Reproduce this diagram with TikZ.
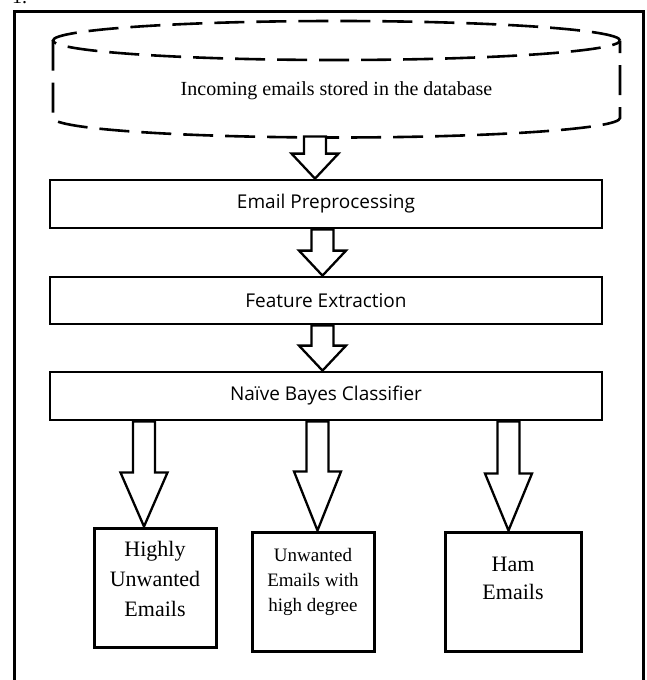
\documentclass[tikz,border=0pt]{standalone}
\usepackage{fontspec}
\setmainfont{Liberation Serif}
\newfontfamily\boxsans{Open Sans}
\usetikzlibrary{calc}
\newcommand\hollowarrow[3]{%
  \draw[hollow] let \p1=#1, \p2=#2 in
    (\x1-11pt,\y1) -- (\x1-11pt,\y2+#3pt) -- (\x1-23.5pt,\y2+#3pt) -- (\x1,\y2)
    -- (\x1+23.5pt,\y2+#3pt) -- (\x1+11pt,\y2+#3pt) -- (\x1+11pt,\y1) -- cycle;}
\begin{document}
\begin{tikzpicture}[x=1pt,y=1pt,
  frame/.style={line width=3pt},
  dbline/.style={line width=2.6pt, dash pattern=on 30pt off 12pt},
  procbox/.style={draw, line width=2.8pt, minimum width=552pt, inner sep=0pt,
    font=\boxsans\fontsize{19}{23}\selectfont},
  outbox/.style={draw, line width=3pt, minimum height=119pt, inner sep=0pt},
  outtext/.style={align=center, inner sep=0pt},
  hollow/.style={line width=2.3pt, fill=white, draw, line join=miter}]
\useasboundingbox (0,0) rectangle (647,-680);
% cropped number at the top
\node[anchor=base west, inner sep=0pt, font=\fontsize{20}{24}\selectfont] (num) at (12,-3) {1.};
% outer frame
\draw[frame] (14,-682) -- (14,-11) -- (643,-11) -- (643,-682);
% database cylinder
\draw[dbline] (336.5,-40.5) ellipse [x radius=283.5, y radius=19.5];
\draw[dbline] (53,-40.5) -- (53,-118)
  arc[start angle=180, end angle=360, x radius=283.5, y radius=19.5] -- (620,-40.5);
\node[inner sep=0pt, font=\fontsize{20}{24}\selectfont] (db) at (336.5,-90.5)
  {Incoming emails stored in the database};
\coordinate (dbbottom) at (315,-136.5);
% process boxes
\node[procbox, minimum height=48pt] (b1) at (326,-204) {Email Preprocessing};
\node[procbox, minimum height=47pt] (b2) at (326,-300.5) {Feature Extraction};
\node[procbox, minimum height=48pt] (b3) at (326,-396) {Naïve Bayes Classifier};
% output boxes
\node[outbox, minimum width=122pt] (oA) at (155,-587.5) {};
\node[outbox, minimum width=122pt] (oB) at (313,-591.5) {};
\node[outbox, minimum width=136pt] (oC) at (513,-591.5) {};
\node[outtext, font=\fontsize{22}{30}\selectfont] (tA) at (155,-579) {Highly\\Unwanted\\Emails};
\node[outtext, font=\fontsize{19}{25}\selectfont] (tB) at (313,-582) {Unwanted\\Emails with\\high degree};
\node[outtext, font=\fontsize{22}{28.5}\selectfont] (tC) at (513,-578.5) {Ham\\Emails};
% hollow arrows
\hollowarrow{(dbbottom)}{(b1.north)}{25}
\hollowarrow{($(b1.south)+(-3.5,0)$)}{(b2.north)}{25}
\hollowarrow{($(b2.south)+(-3.5,0)$)}{(b3.north)}{25}
\hollowarrow{($(b3.south)+(-182,0)$)}{(oA.north)}{54}
\hollowarrow{($(b3.south)+(-8.5,0)$)}{(oB.north)}{59}
\hollowarrow{($(b3.south)+(182.5,0)$)}{(oC.north)}{57}
\end{tikzpicture}
\end{document}
